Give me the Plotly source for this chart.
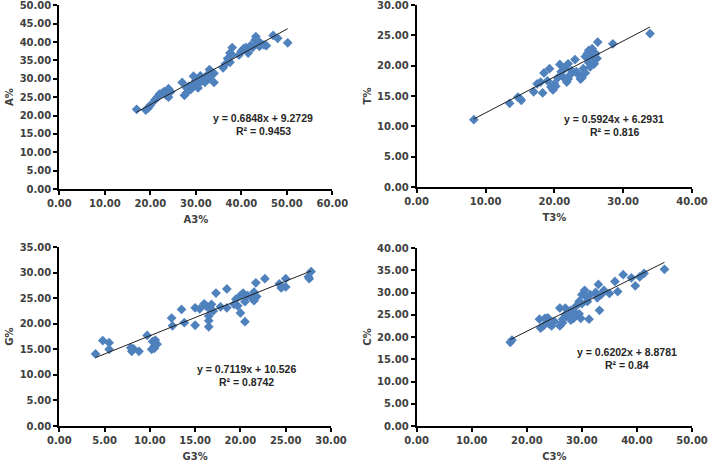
import plotly.graph_objects as go
import numpy as np

# ---------------- data ----------------
a3_x = [17.0, 19.0, 19.5, 20.0, 21.0, 21.5, 22.0, 22.5, 23.0, 23.5, 24.0, 24.0, 24.5,
        27.0, 27.5, 28.0, 28.0, 28.5, 29.0, 29.5, 29.5, 30.0, 30.5, 30.5, 31.0, 31.0,
        31.5, 32.0, 32.5, 32.8, 33.0, 33.0, 33.5, 34.0, 34.0,
        36.0, 36.5, 37.0, 37.5, 37.5, 38.0, 38.0,
        39.5, 40.0, 40.5, 41.0, 41.5, 42.0, 42.5, 43.0, 43.2, 43.5, 44.0, 44.0,
        45.0, 45.5, 47.0, 48.0, 50.2]
a_y = [21.7, 21.5, 22.0, 22.8, 24.2, 25.0, 25.8, 26.0, 26.5, 25.5, 25.0, 27.3, 26.5,
       29.0, 25.5, 26.2, 27.5, 28.0, 27.2, 30.7, 28.5, 29.5, 27.5, 28.5, 30.8, 29.2,
       29.8, 29.0, 31.0, 30.0, 32.5, 30.5, 31.8, 29.0, 31.5,
       33.0, 34.0, 35.5, 34.5, 37.0, 36.5, 38.5,
       36.5, 37.5, 38.2, 38.5, 37.0, 39.0, 38.5, 40.5, 41.5, 39.5, 40.0, 38.8,
       39.2, 39.0, 41.8, 41.0, 39.8]

t3_x = [8.3, 13.5, 14.7, 15.0, 15.2,
        17.0, 17.5, 18.0, 18.3, 18.5, 19.0, 19.3, 19.5, 19.8, 20.0, 20.2, 20.5, 20.8,
        21.0, 21.2, 21.5, 21.8, 22.0, 22.0, 22.3, 22.5, 23.0, 23.2, 23.5, 23.8, 24.0,
        24.2, 24.5, 24.5, 24.8, 25.0, 25.0, 25.2, 25.2, 25.5, 25.5, 25.8, 26.0, 26.2,
        26.3, 28.5, 33.9]
t_y = [11.1, 13.8, 14.8, 14.6, 14.3,
       15.7, 17.0, 17.3, 15.5, 18.8, 17.5, 19.5, 16.5, 16.0, 17.0, 16.6, 18.0, 20.2,
       19.0, 18.2, 19.5, 17.3, 20.3, 17.8, 18.5, 19.2, 21.0, 19.0, 18.5, 17.8, 18.0,
       19.5, 21.5, 18.8, 22.0, 20.5, 22.5, 19.8, 21.8, 21.0, 22.8, 20.3, 22.0, 21.2,
       23.9, 23.6, 25.3]

g3_x = [4.0, 4.8, 5.5, 5.5, 7.9, 8.0, 8.2, 8.8, 9.7, 10.2, 10.3, 10.5, 10.5, 10.6, 10.8,
        12.4, 12.5, 13.5, 13.8, 15.0, 15.0, 15.5, 16.0, 16.2, 16.5, 16.5, 16.5, 16.5,
        16.8, 17.0, 17.3, 17.8, 18.5, 18.5, 19.3, 19.5, 19.7, 20.0, 20.0, 20.3, 20.5,
        20.5, 20.8, 21.3, 21.5, 21.5, 21.7, 21.8, 22.7, 24.3, 24.5, 25.0, 25.0, 27.5,
        27.6, 27.8]
g_y = [14.1, 16.7, 16.3, 15.0, 15.3, 14.6, 15.1, 14.6, 17.7, 15.0, 16.5, 15.6, 15.2, 16.8, 16.0,
       21.1, 19.6, 22.8, 20.2, 23.1, 19.7, 22.9, 23.9, 23.5, 23.0, 21.5, 20.6, 19.4,
       23.8, 22.5, 26.0, 23.3, 26.8, 23.1, 23.8, 24.8, 23.5, 25.5, 22.1, 26.0, 24.3,
       20.4, 25.5, 25.0, 26.2, 24.5, 28.0, 25.3, 28.8, 27.8, 27.0, 28.8, 27.2, 29.2,
       28.8, 30.2]

c3_x = [17.0, 17.3, 22.3, 22.5, 23.0, 23.3, 23.8, 24.0, 24.5, 25.0, 26.0, 26.0, 26.5,
        26.5, 27.0, 27.0, 27.5, 28.0, 28.0, 28.5, 28.5, 29.0, 29.0, 29.5, 29.5, 29.8,
        30.0, 30.0, 30.5, 30.8, 31.0, 31.3, 31.5, 32.5, 32.8, 33.0, 33.2, 33.5, 34.0,
        35.0, 36.0, 36.5, 37.5, 39.0, 39.7, 40.5, 41.3, 45.0]
c_y = [18.8, 19.3, 24.0, 22.0, 22.5, 24.2, 24.3, 23.0, 22.5, 23.5, 26.5, 22.5, 24.0,
       23.2, 26.5, 25.0, 24.5, 23.8, 26.0, 25.5, 24.2, 27.0, 25.0, 28.0, 25.2, 24.2,
       29.5, 27.5, 30.5, 29.0, 28.0, 24.0, 29.5, 30.0, 28.8, 31.8, 26.0, 29.5, 30.5,
       29.8, 32.5, 30.2, 34.0, 33.3, 31.5, 33.5, 34.3, 35.2]

x_titles = ["A3%", "T3%", "G3%", "C3%"]
y_titles = ["A%", "T%", "G%", "C%"]
slopes = [0.6848, 0.5924, 0.7119, 0.6202]
intercepts = [9.2729, 6.2931, 10.526, 8.8781]
r2_labels = ["0.9453", "0.816", "0.8742", "0.84"]
x_max = [60, 40, 30, 50]
y_max = [50, 30, 35, 40]
x_dtick = [10, 10, 5, 10]
y_dtick = [5, 5, 5, 5]

xs = [a3_x, t3_x, g3_x, c3_x]
ys = [a_y, t_y, g_y, c_y]

# ---------------- layout geometry (px) ----------------
W, H = 708, 464
# (left, right, top, bottom) of plot areas in px
boxes = [(59.3, 332.3, 5.3, 189.0),
         (416.7, 692.0, 5.0, 187.0),
         (59.3, 331.0, 247.0, 426.0),
         (416.7, 692.0, 248.0, 426.0)]
# equation label centres (px)
eq_pos = [(263, 118), (614, 119), (247, 369), (627, 352)]

fig = go.Figure()
tick_font = dict(family="DejaVu Sans", size=10, color="#404040", weight="bold")
title_font = dict(family="DejaVu Sans", size=10, color="#404040", weight="bold")
eq_font = dict(family="Liberation Sans", size=10.5, color="#262626", weight="bold")
marker_color = "#4F81BD"

for i in range(4):
    sfx = "" if i == 0 else str(i + 1)
    xa, ya = "x" + sfx, "y" + sfx
    x = np.array(xs[i]); y = np.array(ys[i])
    fig.add_trace(go.Scatter(x=x, y=y, mode="markers", xaxis=xa, yaxis=ya,
                             marker=dict(symbol="diamond", size=7.5, color=marker_color,
                                         line=dict(width=0)),
                             showlegend=False, hoverinfo="skip"))
    lx = np.array([x.min(), x.max()])
    ly = slopes[i] * lx + intercepts[i]
    fig.add_trace(go.Scatter(x=lx, y=ly, mode="lines", xaxis=xa, yaxis=ya,
                             line=dict(color="#202020", width=1),
                             showlegend=False, hoverinfo="skip"))
    l, r, t, b = boxes[i]
    common = dict(showgrid=False, zeroline=False, showline=True, linecolor="black",
                  linewidth=2, ticks="outside", ticklen=4, tickwidth=2,
                  tickcolor="black", tickfont=tick_font, tickformat=".2f",
                  automargin=False, ticklabeloverflow="allow")
    fig.layout["xaxis" + sfx] = dict(domain=[l / W, r / W], anchor=ya,
                                     range=[0, x_max[i]], dtick=x_dtick[i], tick0=0,
                                     title=dict(text=x_titles[i], font=title_font, standoff=8),
                                     **common)
    fig.layout["yaxis" + sfx] = dict(domain=[1 - b / H, 1 - t / H], anchor=xa,
                                     range=[0, y_max[i]], dtick=y_dtick[i], tick0=0,
                                     title=dict(text=y_titles[i], font=title_font, standoff=4),
                                     **common)
    ex, ey = eq_pos[i]
    fig.add_annotation(x=ex / W, y=1 - ey / H, xref="paper", yref="paper",
                       text=f"y = {slopes[i]}x + {intercepts[i]}",
                       showarrow=False, xanchor="center", yanchor="middle", font=eq_font)
    fig.add_annotation(x=ex / W, y=1 - (ey + 13) / H, xref="paper", yref="paper",
                       text=f"R² = {r2_labels[i]}",
                       showarrow=False, xanchor="center", yanchor="middle", font=eq_font)

fig.update_layout(width=W, height=H, margin=dict(l=0, r=0, t=0, b=0),
                  paper_bgcolor="white", plot_bgcolor="white")
fig.write_html("out.html", config={"displayModeBar": False},
               post_script="document.body.style.margin='0';document.body.style.overflow='hidden';")
